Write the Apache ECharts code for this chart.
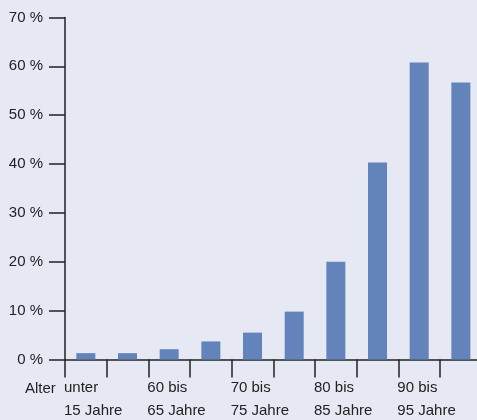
<!DOCTYPE html>
<html>
<head>
<meta charset="utf-8">
<script src="https://cdn.jsdelivr.net/npm/echarts@6/dist/echarts.min.js"></script>
<style>
html, body { margin: 0; padding: 0; background: #e6e8f4; }
#chart { width: 477px; height: 420px; }
</style>
</head>
<body>
<div id="chart"></div>
<script>
// Anteil nach Altersgruppe (Prozent)
var categories = ['<15', '15-60', '60-65', '65-70', '70-75', '75-80', '80-85', '85-90', '90-95', '95+'];
var values = [1.3, 1.3, 2.1, 3.7, 5.5, 9.8, 20.0, 40.3, 60.8, 56.7];
// labels sitting on the category borders
var borderLabels = ['unter\n15 Jahre', '', '60 bis\n65 Jahre', '', '70 bis\n75 Jahre', '',
    '80 bis\n85 Jahre', '', '90 bis\n95 Jahre', '', ''];
var yTicks = [0, 10, 20, 30, 40, 50, 60, 70];

var fontFam = '"Liberation Sans", Arial, sans-serif';
var ink = '#222';

var myChart = echarts.init(document.getElementById('chart'), null, {renderer: 'canvas'});
var option = {
    backgroundColor: '#e6e8f4',
    animation: false,
    grid: {
        left: 65, top: 17.5, right: -4.7, bottom: 60.5,
        containLabel: false,
        outerBoundsMode: 'none'
    },
    xAxis: [
        {
            type: 'category',
            data: categories,
            boundaryGap: true,
            axisLine: {show: true, lineStyle: {color: ink, width: 1.5}},
            axisTick: {show: true, length: 18, interval: 0, lineStyle: {color: ink, width: 1.5}},
            axisLabel: {show: false},
            splitLine: {show: false}
        },
        {
            type: 'category',
            position: 'bottom',
            data: borderLabels,
            boundaryGap: false,
            axisLine: {show: false},
            axisTick: {show: false},
            axisLabel: {
                show: true,
                interval: 0,
                align: 'left',
                margin: 17,
                padding: [0, 0, 0, -1],
                color: ink,
                fontFamily: fontFam,
                fontSize: 15,
                lineHeight: 23
            },
            splitLine: {show: false}
        }
    ],
    yAxis: {
        type: 'value',
        min: yTicks[0],
        max: yTicks[yTicks.length - 1],
        interval: 10,
        axisLine: {show: true, lineStyle: {color: ink, width: 1.5}},
        axisTick: {show: true, inside: false, length: 16, lineStyle: {color: ink, width: 1.5}},
        axisLabel: {
            margin: 22,
            color: ink,
            fontFamily: fontFam,
            fontSize: 15,
            formatter: function (v) { return v + ' %'; }
        },
        splitLine: {show: false}
    },
    graphic: [
        {
            type: 'text',
            left: 25,
            top: 377,
            style: {text: 'Alter', fill: ink, font: '15px ' + fontFam, lineHeight: 23}
        }
    ],
    series: [
        {
            type: 'bar',
            xAxisIndex: 0,
            data: values,
            barWidth: 19,
            itemStyle: {color: '#6383bb'}
        }
    ]
};
myChart.setOption(option);
</script>
</body>
</html>
